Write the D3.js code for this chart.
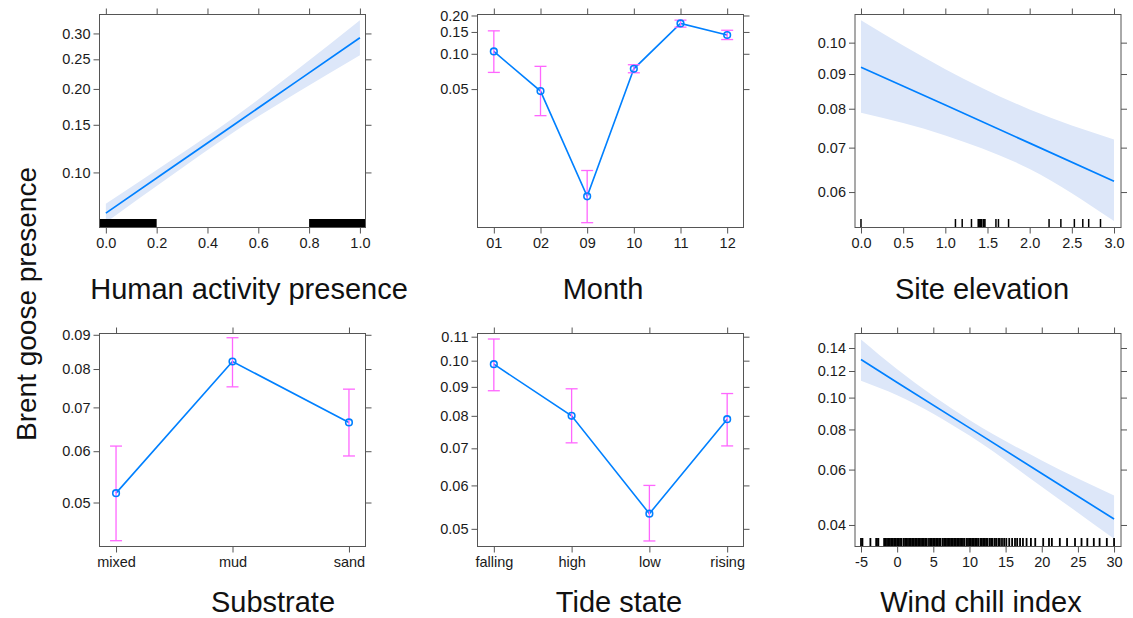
<!DOCTYPE html>
<html><head><meta charset="utf-8">
<script src="https://cdn.jsdelivr.net/npm/d3@7"></script>
<style>
html,body{margin:0;padding:0;background:#fff;}
svg{display:block;font-family:Arial,"Liberation Sans",Helvetica,sans-serif;}
</style></head><body>
<svg id="chart" width="1133" height="618"></svg>
<script>
// ---- effect estimates (probability scale) ----
const humanX = [0, 0.25, 0.5, 0.75, 1];
const humanFit = [0.0696, 0.1028, 0.1492, 0.2116, 0.2913];
const humanLower = [0.0640, 0.0961, 0.1405, 0.1939, 0.2575];
const humanUpper = [0.0757, 0.1099, 0.1583, 0.2306, 0.3276];
const humanRugSpans = [[-0.03, 0.2], [0.8, 1.03]];
const humanXTicks = [0, 0.2, 0.4, 0.6, 0.8, 1.0];
const humanYTicks = [0.10, 0.15, 0.20, 0.25, 0.30];

const months = ["01", "02", "09", "10", "11", "12"];
const monthFit = [0.1046, 0.0480, 0.0054, 0.0748, 0.1744, 0.1420];
const monthLower = [0.0697, 0.0291, 0.0031, 0.0692, 0.1634, 0.1306];
const monthUpper = [0.1530, 0.0785, 0.0093, 0.0810, 0.1847, 0.1546];
const monthYTicks = [0.05, 0.10, 0.15, 0.20];

const elevX = [0, 1, 2, 3];
const elevFit = [0.0921, 0.0810, 0.0711, 0.0623];
const elevLower = [0.0789, 0.0730, 0.0650, 0.0542];
const elevUpper = [0.1077, 0.0915, 0.0798, 0.0720];
const elevRug = [0, 1.12, 1.20, 1.31, 1.39, 1.40, 1.41, 1.42, 1.43, 1.45, 1.46, 1.47,
  1.60, 1.63, 1.75, 2.23, 2.37, 2.53, 2.63, 2.70, 2.84];
const elevXTicks = [0, 0.5, 1.0, 1.5, 2.0, 2.5, 3.0];
const elevYTicks = [0.06, 0.07, 0.08, 0.09, 0.10];

const substrates = ["mixed", "mud", "sand"];
const substrateFit = [0.0517, 0.0821, 0.0664];
const substrateLower = [0.0436, 0.0752, 0.0590];
const substrateUpper = [0.0611, 0.0891, 0.0746];
const substrateYTicks = [0.05, 0.06, 0.07, 0.08, 0.09];

const tides = ["falling", "high", "low", "rising"];
const tideFit = [0.0986, 0.0800, 0.0533, 0.0789];
const tideLower = [0.0886, 0.0716, 0.0475, 0.0707];
const tideUpper = [0.1090, 0.0893, 0.0600, 0.0876];
const tideYTicks = [0.05, 0.06, 0.07, 0.08, 0.09, 0.10, 0.11];

const windX = [-5, 0, 10, 20, 30];
const windFit = [0.1297, 0.1110, 0.0809, 0.0583, 0.0418];
const windLower = [0.1124, 0.1017, 0.0766, 0.0530, 0.0361];
const windUpper = [0.1480, 0.1214, 0.0855, 0.0641, 0.0497];
const windRug = [-5, -4.8, -3.7, -2.9, -2.8, -2.6, -1.8, -1.6, -1.4, -1.2, -1.0, -0.8, -0.6,
  -0.4, -0.2, 0.0, 0.2, 0.4, 0.6, 0.9, 1.1, 1.3, 1.5, 1.7, 1.9, 2.1, 2.3, 2.5, 2.7, 2.9,
  3.1, 3.3, 3.5, 3.7, 3.9, 4.1, 4.4, 4.6, 4.8, 5.0, 5.2, 5.4, 5.6, 5.8, 6.0, 6.3, 6.5,
  6.7, 6.9, 7.1, 7.3, 7.5, 7.7, 7.9, 8.1, 8.3, 8.5, 8.7, 8.9, 9.1, 9.3, 9.6, 9.8, 10.0,
  10.2, 10.4, 10.6, 10.8, 11.0, 11.2, 11.5, 11.7, 11.9, 12.1, 12.3, 12.5, 12.8, 13.0,
  13.2, 13.5, 13.7, 14.0, 14.2, 14.5, 14.8, 15.1, 15.5, 15.9, 16.3, 16.6, 17.0, 17.4,
  17.9, 18.5, 19.1, 20.2, 21.0, 21.4, 22.5, 23.5, 24.6, 25.5, 26.3, 27.2, 28.0, 29.0, 30.0];
const windXTicks = [-5, 0, 5, 10, 15, 20, 25, 30];
const windYTicks = [0.04, 0.06, 0.08, 0.10, 0.12, 0.14];

const yTitle = "Brent goose presence";

// ---- helpers ----
const logit = p => Math.log(p / (1 - p));
const invLogit = v => 1 / (1 + Math.exp(-v));
const svg = d3.select("#chart");
const LINE = "#0080ff", BAND = "#dde7f9", BAR = "#ff66ff", INK = "#1a1a1a", FRAME = "#555";

const colLeft = [99.5, 477.5, 855];
const rowTop = [14.5, 333.5];
const PW = 266, PH = 213;

function drawPanel(cfg, idx) {
  const x0 = colLeft[cfg.col], y0 = rowTop[cfg.row];
  const g = svg.append("g").attr("transform", `translate(${x0},${y0})`);
  const clipId = "clip" + idx;
  g.append("clipPath").attr("id", clipId).append("rect").attr("width", PW).attr("height", PH);

  const yLin = d3.scaleLinear().domain(cfg.yDomain.map(logit)).range([PH, 0]);
  const y = p => yLin(logit(p));

  const x = cfg.cats
    ? d3.scalePoint().domain(cfg.cats).range([0, PW]).padding(cfg.pad)
    : d3.scaleLinear().domain(cfg.xDomain).range([0, PW]);

  const inner = g.append("g").attr("clip-path", `url(#${clipId})`);

  if (!cfg.cats) {
    // confidence band + fitted line
    const pts = cfg.xs.map((v, i) => ({ x: v, f: cfg.fit[i], lo: cfg.lower[i], hi: cfg.upper[i] }));
    inner.append("path").datum(pts)
      .attr("fill", BAND)
      .attr("d", d3.area().x(d => x(d.x)).y0(d => y(d.lo)).y1(d => y(d.hi)).curve(d3.curveMonotoneX));
    // rug of observed values
    if (cfg.rugSpans) {
      inner.selectAll("rect.rug").data(cfg.rugSpans).join("rect")
        .attr("x", d => x(d[0])).attr("width", d => x(d[1]) - x(d[0]))
        .attr("y", PH - 8.5).attr("height", 8.5).attr("fill", "#000");
    }
    if (cfg.rug) {
      inner.selectAll("line.rug").data(cfg.rug).join("line")
        .attr("x1", d => x(d)).attr("x2", d => x(d))
        .attr("y1", PH - 8.5).attr("y2", PH)
        .attr("stroke", "#000").attr("stroke-width", cfg.rugWidth);
    }
    inner.append("path").datum(pts)
      .attr("fill", "none").attr("stroke", LINE).attr("stroke-width", 1.7)
      .attr("d", d3.line().x(d => x(d.x)).y(d => y(d.f)));
  } else {
    const pts = cfg.cats.map((c, i) => ({ c, f: cfg.fit[i], lo: cfg.lower[i], hi: cfg.upper[i] }));
    g.append("path").datum(pts)
      .attr("fill", "none").attr("stroke", LINE).attr("stroke-width", 1.6)
      .attr("d", d3.line().x(d => x(d.c)).y(d => y(d.f)));
    const eb = g.append("g").attr("stroke", BAR).attr("stroke-width", 1.3).attr("fill", "none");
    pts.forEach(d => {
      const cx = x(d.c);
      eb.append("line").attr("x1", cx).attr("x2", cx).attr("y1", y(d.lo)).attr("y2", y(d.hi));
      eb.append("line").attr("x1", cx - 6).attr("x2", cx + 6).attr("y1", y(d.lo)).attr("y2", y(d.lo));
      eb.append("line").attr("x1", cx - 6).attr("x2", cx + 6).attr("y1", y(d.hi)).attr("y2", y(d.hi));
    });
    g.selectAll("circle.pt").data(pts).join("circle")
      .attr("cx", d => x(d.c)).attr("cy", d => y(d.f)).attr("r", 3.3)
      .attr("fill", "none").attr("stroke", LINE).attr("stroke-width", 1.6);
  }

  // frame
  g.append("rect").attr("width", PW).attr("height", PH)
    .attr("fill", "none").attr("stroke", FRAME).attr("stroke-width", 1);

  const yTickVals = cfg.yTicks.map(logit);
  const fmtY = d3.format(".2f");
  const styleAxis = sel => {
    sel.select(".domain").remove();
    sel.selectAll(".tick line").attr("stroke", FRAME);
    sel.selectAll("text").attr("fill", INK).style("font-size", "14.5px")
      .style("font-family", 'Arial,"Liberation Sans",sans-serif');
  };

  g.append("g").call(d3.axisLeft(yLin).tickValues(yTickVals)
      .tickFormat(v => fmtY(invLogit(v))).tickSize(6).tickPadding(3))
    .call(styleAxis);
  g.append("g").attr("transform", `translate(${PW},0)`)
    .call(d3.axisRight(yLin).tickValues(yTickVals).tickFormat("").tickSize(6))
    .call(styleAxis);

  const bottom = cfg.cats
    ? d3.axisBottom(x)
    : d3.axisBottom(x).tickValues(cfg.xTicks).tickFormat(cfg.xFmt);
  g.append("g").attr("transform", `translate(0,${PH})`)
    .call(bottom.tickSize(6).tickPadding(4)).call(styleAxis);
  const top = cfg.cats
    ? d3.axisTop(x).tickFormat("")
    : d3.axisTop(x).tickValues(cfg.xTicks).tickFormat("");
  g.append("g").call(top.tickSize(6)).call(styleAxis);

  // panel title
  svg.append("text")
    .attr("x", cfg.titleX).attr("y", cfg.titleY)
    .attr("text-anchor", "middle").attr("fill", "#111")
    .style("font-size", "29px")
    .text(cfg.title);
}

const fmt1 = d3.format(".1f");
const panels = [
  { col: 0, row: 0, xs: humanX, fit: humanFit, lower: humanLower, upper: humanUpper,
    rugSpans: humanRugSpans, xDomain: [-0.025, 1.022], xTicks: humanXTicks, xFmt: fmt1,
    yDomain: [0.0611, 0.340], yTicks: humanYTicks,
    title: "Human activity presence", titleX: 249, titleY: 299 },
  { col: 1, row: 0, cats: months, pad: 0.35, fit: monthFit, lower: monthLower, upper: monthUpper,
    yDomain: [0.0028, 0.2034], yTicks: monthYTicks,
    title: "Month", titleX: 603, titleY: 299 },
  { col: 2, row: 0, xs: elevX, fit: elevFit, lower: elevLower, upper: elevUpper,
    rug: elevRug, rugWidth: 1.5, xDomain: [-0.071, 3.083], xTicks: elevXTicks, xFmt: fmt1,
    yDomain: [0.0530, 0.1098], yTicks: elevYTicks,
    title: "Site elevation", titleX: 982, titleY: 299 },
  { col: 0, row: 1, cats: substrates, pad: 0.142, fit: substrateFit, lower: substrateLower, upper: substrateUpper,
    yDomain: [0.0427, 0.0904], yTicks: substrateYTicks,
    title: "Substrate", titleX: 273, titleY: 612 },
  { col: 1, row: 1, cats: tides, pad: 0.21, fit: tideFit, lower: tideLower, upper: tideUpper,
    yDomain: [0.0464, 0.1114], yTicks: tideYTicks,
    title: "Tide state", titleX: 619, titleY: 612 },
  { col: 2, row: 1, xs: windX, fit: windFit, lower: windLower, upper: windUpper,
    rug: windRug, rugWidth: 1.8, xDomain: [-5.83, 30.96], xTicks: windXTicks, xFmt: d => String(d),
    yDomain: [0.0341, 0.154], yTicks: windYTicks,
    title: "Wind chill index", titleX: 981, titleY: 612 }
];
panels.forEach(drawPanel);

// shared response label
svg.append("text")
  .attr("transform", "translate(36,304) rotate(-90)")
  .attr("text-anchor", "middle").attr("fill", "#111")
  .style("font-size", "28px")
  .text(yTitle);
</script>
</body></html>
